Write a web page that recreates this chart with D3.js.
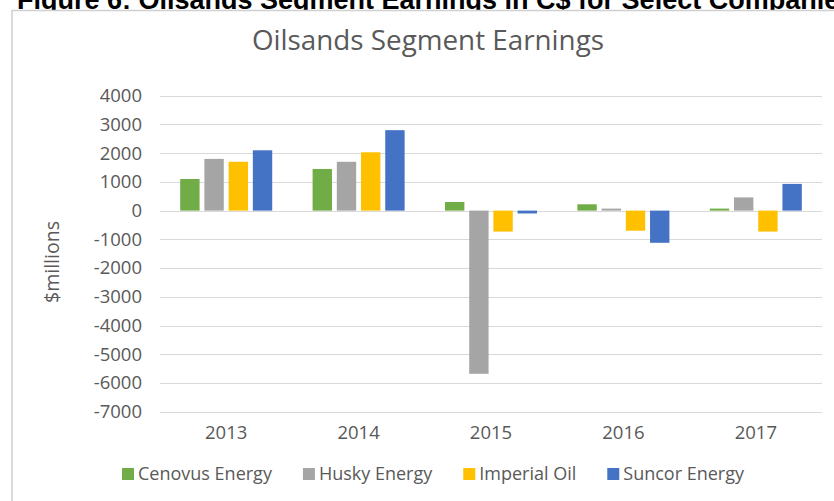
<!DOCTYPE html>
<meta charset="utf-8">
<style>
body {
  margin: 0;
  background: #fff;
}
text {
  font-family: "Open Sans", sans-serif;
  fill: #595959;
}
.grid line {
  stroke: #d9d9d9;
  stroke-width: 1px;
}
</style>
<body>
<script src="https://d3js.org/d3.v7.min.js"></script>
<script>

var width = 834,
    height = 501;

// values in $ millions
var years = ["2013", "2014", "2015", "2016", "2017"];
var companies = ["Cenovus Energy", "Husky Energy", "Imperial Oil", "Suncor Energy"];
var cenovus  = [1100, 1450, 300, 220, 70];
var husky    = [1800, 1700, -5680, 70, 460];
var imperial = [1700, 2030, -730, -700, -730];
var suncor   = [2100, 2800, -100, -1120, 930];
var colors = ["#70ad47", "#a5a5a5", "#ffc000", "#4472c4"];
var yTicks = [4000, 3000, 2000, 1000, 0, -1000, -2000, -3000, -4000, -5000, -6000, -7000];

var series = [cenovus, husky, imperial, suncor];

// plot area (note: "top" is taken by window.top)
var plotLeft = 160, plotRight = 822, plotTop = 95.7, plotBottom = 411.7;

var svg = d3.select("body").append("svg")
    .attr("width", width)
    .attr("height", height);

// caption from the report, cut off by the page top
svg.append("text")
  .attr("x", 17)
  .attr("y", 9)
  .style("font-family", "'Liberation Sans', Arial, sans-serif")
  .style("font-weight", "bold")
  .style("font-size", "27px")
  .style("fill", "#000")
  .text("Figure 6: Oilsands Segment Earnings in C$ for Select Companies");

// chart frame
svg.append("rect")
  .attr("x", 12)
  .attr("y", 10.5)
  .attr("width", 900)
  .attr("height", 600)
  .attr("fill", "#fff")
  .attr("stroke", "#d0d0d0")
  .attr("stroke-width", 1.5);

svg.append("text")
  .attr("x", 428)
  .attr("y", 50)
  .attr("text-anchor", "middle")
  .style("font-size", "27.8px")
  .text("Oilsands Segment Earnings");

var y = d3.scaleLinear()
  .domain([-7000, 4000])
  .range([plotBottom, plotTop]);

var x0 = d3.scaleBand()
  .domain(years)
  .range([plotLeft, plotRight])
  .paddingInner(0.305)
  .paddingOuter(0.1525);

var x1 = d3.scaleBand()
  .domain(companies)
  .range([0, x0.bandwidth()])
  .paddingInner(0.2);

// gridlines
svg.append("g")
  .attr("class", "grid")
  .selectAll("line")
  .data(yTicks)
  .enter().append("line")
  .attr("x1", plotLeft)
  .attr("x2", plotRight)
  .attr("y1", function(d){ return Math.round(y(d)) + 0.5; })
  .attr("y2", function(d){ return Math.round(y(d)) + 0.5; });

// y axis labels, plain numbers with hyphen minus
var yAxis = d3.axisLeft(y).tickValues(yTicks).tickSize(0).tickPadding(0)
  .tickFormat(function(d){ return String(d); });
var ya = svg.append("g")
  .attr("transform", "translate(142,0)")
  .call(yAxis);
ya.select(".domain").remove();
ya.selectAll("text")
  .style("font-size", "18.5px")
  .style("font-family", "'Open Sans', sans-serif")
  .attr("fill", "#595959");

// x axis labels
var xAxis = d3.axisBottom(x0).tickSize(0).tickPadding(0);
var xa = svg.append("g")
  .attr("transform", "translate(0,426)")
  .call(xAxis);
xa.select(".domain").remove();
xa.selectAll("text")
  .style("font-size", "18.5px")
  .style("font-family", "'Open Sans', sans-serif")
  .attr("fill", "#595959");

// bars
var groups = svg.selectAll(".year")
  .data(years)
  .enter().append("g")
  .attr("class", "year")
  .attr("transform", function(d){ return "translate(" + x0(d) + ",0)"; });

groups.selectAll("rect")
  .data(function(d, i){
    return companies.map(function(c, j){ return {company: c, value: series[j][i], color: colors[j]}; });
  })
  .enter().append("rect")
  .attr("x", function(d){ return x1(d.company); })
  .attr("width", x1.bandwidth())
  .attr("y", function(d){ return y(Math.max(0, d.value)); })
  .attr("height", function(d){ return Math.abs(y(d.value) - y(0)); })
  .attr("fill", function(d){ return d.color; });

// y axis title
svg.append("text")
  .attr("transform", "translate(59,262) rotate(-90)")
  .attr("text-anchor", "middle")
  .style("font-size", "19.5px")
  .text("$millions");

// legend
var legend = svg.append("g").attr("transform", "translate(122,474)");
var lx = 0;
companies.forEach(function(c, i){
  var item = legend.append("g").attr("transform", "translate(" + lx + ",0)");
  item.append("rect")
    .attr("x", 0)
    .attr("y", -6)
    .attr("width", 12)
    .attr("height", 12)
    .attr("fill", colors[i]);
  var t = item.append("text")
    .attr("x", 16)
    .attr("dy", "0.35em")
    .style("font-size", "18px")
    .text(c);
  lx += 16 + t.node().getComputedTextLength() + 31;
});

</script>
